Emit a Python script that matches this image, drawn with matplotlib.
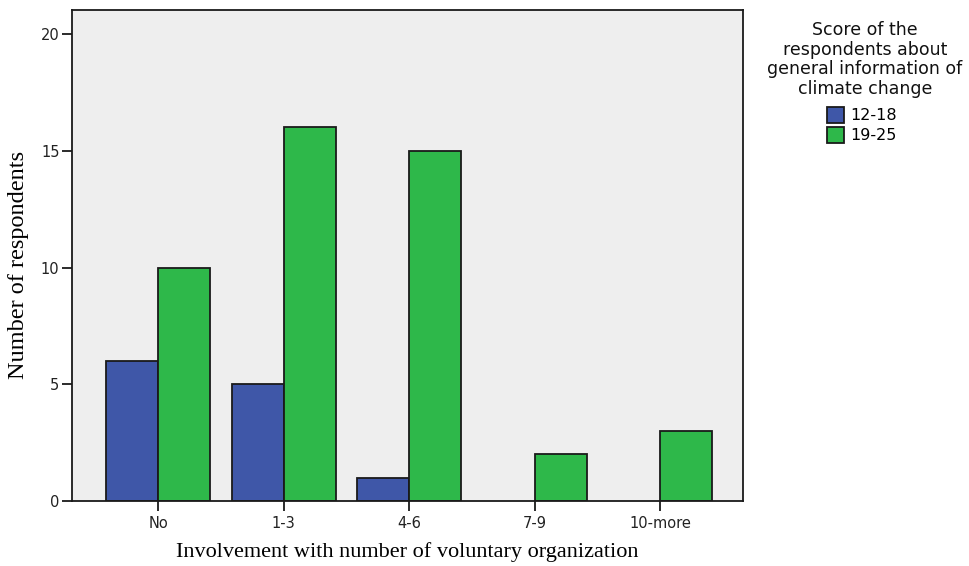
import matplotlib
matplotlib.use("Agg")
import matplotlib.pyplot as plt
import numpy as np

categories = ["No", "1-3", "4-6", "7-9", "10-more"]
series_labels = ["12-18", "19-25"]
values_12_18 = [6, 5, 1, 0, 0]
values_19_25 = [10, 16, 15, 2, 3]
yticks = [0, 5, 10, 15, 20]

colors = ["#3F57A8", "#2EB84A"]

fig = plt.figure(figsize=(9.7, 5.66), dpi=100)
ax = fig.add_axes([72/970, 1-501/566, (743-72)/970, (501-10)/566])
ax.set_facecolor("#EEEEEE")

x = np.arange(len(categories))
w = 0.415
for off, vals, col in [(-w/2, values_12_18, colors[0]), (w/2, values_19_25, colors[1])]:
    lw = [1.3 if v > 0 else 0 for v in vals]
    ax.bar(x + off, vals, w, color=col, edgecolor="#1a1a1a", linewidth=lw)

ax.set_xlim(-0.686, 4.66)
ax.set_ylim(0, 21.03)
ax.set_xticks(x)
ax.set_xticklabels(categories, fontsize=10.5, family="DejaVu Sans", color="#222222")
ax.set_yticks(yticks)
ax.set_yticklabels([str(v) for v in yticks], fontsize=10.5, family="DejaVu Sans", color="#222222")
ax.tick_params(axis="both", length=7, width=1.3, color="#1a1a1a", pad=4)
ax.tick_params(axis="y", pad=2)
for s in ax.spines.values():
    s.set_linewidth(1.3)
    s.set_color("#1a1a1a")

ax.set_xlabel("Involvement with number of voluntary organization", fontsize=16,
              family="Liberation Serif", labelpad=8)
ax.set_ylabel("Number of respondents", fontsize=17.5, family="Liberation Serif")
ax.yaxis.set_label_coords((29 - 72) / 671, (501 - 265) / 491)

fig.text(865/970, 1 - 21/566, "Score of the\nrespondents about\ngeneral information of\nclimate change",
         ha="center", va="top", multialignment="center", family="DejaVu Sans", fontsize=12.5,
         linespacing=1.12, color="#111111")

proxy = [plt.Rectangle((0, 0), 1, 1, facecolor=c, edgecolor="#1a1a1a", linewidth=1.3) for c in colors]
leg = fig.legend(proxy, series_labels,
                 loc="upper center", bbox_to_anchor=(862/970, 1-96/566), frameon=False,
                 prop={"family": "DejaVu Sans", "size": 11.5},
                 handlelength=1.1, handleheight=1.1, handletextpad=0.4, labelspacing=0.25,
                 borderpad=0.2)

fig.savefig("out.png", dpi=100)
